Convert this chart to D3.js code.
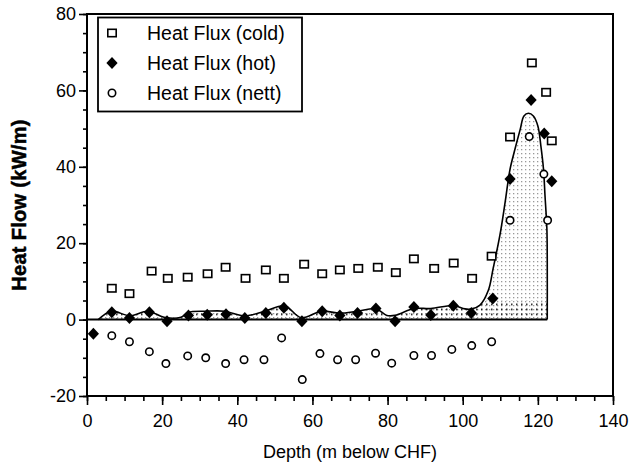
<!DOCTYPE html>
<html>
<head>
<meta charset="utf-8">
<script src="https://cdn.jsdelivr.net/npm/d3@7"></script>
<style>
  html, body { margin: 0; padding: 0; background: #fff; }
  svg { display: block; font-family: "Liberation Sans", Arial, sans-serif; }
</style>
</head>
<body>
<svg id="chart" width="644" height="472"></svg>
<script>
// ---- data ----
const coldDepth = [6.6, 11.3, 17.2, 21.5, 26.8, 32.1, 36.9, 42.2, 47.6, 52.4, 57.8, 62.6, 67.3, 72.2, 77.4, 82.2, 87, 92.4, 97.6, 102.5, 107.7, 112.6, 118.4, 122.2, 123.7];
const coldFlux  = [8.2, 6.8, 12.7, 10.8, 11.1, 12.0, 13.7, 10.8, 13.0, 10.8, 14.5, 12.0, 13.0, 13.4, 13.7, 12.3, 15.9, 13.4, 14.8, 10.8, 16.6, 47.8, 67.2, 59.5, 46.8];

const hotDepth = [1.7, 6.6, 11.3, 16.6, 21.3, 27, 32, 37, 42, 47.6, 52.4, 57.2, 62.6, 67.3, 72, 76.9, 82, 87, 91.5, 97.5, 102.3, 108, 112.6, 118.2, 121.7, 123.7];
const hotFlux  = [-3.7, 1.9, 0.4, 1.9, -0.4, 1.1, 1.3, 1.4, 0.4, 1.7, 3.1, -0.4, 2.2, 1.1, 1.7, 2.9, -0.4, 3.3, 1.2, 3.6, 1.7, 5.5, 36.8, 57.5, 48.7, 36.2];

const nettDepth = [6.6, 11.3, 16.6, 21, 26.8, 31.6, 36.9, 41.8, 47.1, 51.8, 57.3, 62, 66.7, 71.5, 76.8, 81.1, 87, 91.7, 97.1, 102.4, 107.7, 112.6, 117.7, 121.6, 122.6];
const nettFlux  = [-4.2, -5.8, -8.4, -11.5, -9.5, -10.0, -11.5, -10.5, -10.5, -4.8, -15.7, -8.9, -10.5, -10.5, -8.8, -11.4, -9.4, -9.4, -7.8, -6.8, -5.8, 26.0, 47.9, 38.1, 26.0];

// smoothed hot-flux envelope (shaded region)
const fitDepth = [3, 6.5, 11.4, 16.2, 20.5, 25, 26.9, 31.8, 36.6, 42, 47.3, 52.6, 57, 62.4, 67.3, 72, 76.9, 79.8, 82, 87, 91.5, 97.5, 100.6, 102.4, 104.6, 106.8, 108.1, 109.9, 111.3, 112.6, 113.9, 115.3, 116.3, 117.5, 118.8, 120, 120.8, 121.5, 121.9, 122.4, 122.5, 122.5];
const fitFlux  = [0, 2.2, 1.0, 2.2, 0.6, 0.6, 1.9, 2.2, 2.2, 1.0, 2.2, 3.6, 0.5, 2.2, 1.7, 2.2, 2.8, 1.1, 1.1, 2.9, 2.9, 3.7, 2.8, 2.8, 3.8, 7.6, 13.4, 22.1, 30.8, 39.4, 44.6, 49.8, 53.3, 54.0, 53.3, 50.7, 45.5, 39.4, 32.5, 23.8, 15.2, 0];

const xTicks = [0, 20, 40, 60, 80, 100, 120, 140];
const yTicks = [-20, 0, 20, 40, 60, 80];
const legendLabels = ["Heat Flux (cold)", "Heat Flux (hot)", "Heat Flux (nett)"];
const xTitle = "Depth (m below CHF)";
const yTitle = "Heat Flow (kW/m)";

// ---- layout ----
const svg = d3.select("#chart");
const L = 87, R = 613, T = 14, B = 396;
const x = d3.scaleLinear().domain([0, 140]).range([L, R]);
const y = d3.scaleLinear().domain([-20, 80]).range([B, T]);
const fmt = d => String(d);

const defs = svg.append("defs");
const pg = defs.append("pattern").attr("id", "grayDots").attr("patternUnits", "userSpaceOnUse")
  .attr("width", 4).attr("height", 4);
pg.append("rect").attr("x", 1).attr("y", 1).attr("width", 1.3).attr("height", 1.3).attr("fill", "#999");
const pb = defs.append("pattern").attr("id", "blackDots").attr("patternUnits", "userSpaceOnUse")
  .attr("width", 5).attr("height", 5).attr("y", y(0) - 2);
pb.append("rect").attr("x", 1).attr("y", 1).attr("width", 1.5).attr("height", 1.5).attr("fill", "#000");

const fit = fitDepth.map((d, i) => [d, fitFlux[i]]);
const area = d3.area().x(d => x(d[0])).y0(y(0)).y1(d => y(d[1])).curve(d3.curveLinear);
const line = d3.line().x(d => x(d[0])).y(d => y(d[1])).curve(d3.curveCatmullRom.alpha(0.5));

defs.append("clipPath").attr("id", "fitClip").append("path").attr("d", area(fit));

svg.append("path").attr("d", area(fit)).attr("fill", "url(#grayDots)");
// black-dot band near the baseline
svg.append("rect").attr("clip-path", "url(#fitClip)")
  .attr("x", x(0)).attr("width", x(125) - x(0))
  .attr("y", y(5)).attr("height", y(0) - y(5))
  .attr("fill", "url(#blackDots)");

// zero line
svg.append("line").attr("x1", x(0)).attr("x2", x(122.5)).attr("y1", y(0)).attr("y2", y(0))
  .attr("stroke", "#000").attr("stroke-width", 2);

svg.append("path").attr("d", line(fit)).attr("fill", "none").attr("stroke", "#000").attr("stroke-width", 1.6);

// ---- axes ----
const xMinor = d3.range(0, 141, 5);
const yMinor = d3.range(-20, 81, 5);
const gx = svg.append("g").attr("transform", `translate(0,${B})`);
gx.call(d3.axisBottom(x).tickValues(xMinor).tickSize(5).tickFormat(""));
gx.call(g => g.selectAll(".domain").remove());
const gx2 = svg.append("g").attr("transform", `translate(0,${B})`);
gx2.call(d3.axisBottom(x).tickValues(xTicks).tickSize(9).tickPadding(9).tickFormat(fmt));
gx2.select(".domain").remove();
[gx, gx2].forEach(g => g.selectAll("line").attr("stroke-width", 1.6));
gx2.selectAll("text").attr("font-size", 18).attr("fill", "#000").attr("font-family", "Liberation Sans, Arial, sans-serif");

const gy = svg.append("g").attr("transform", `translate(${L},0)`);
gy.call(d3.axisLeft(y).tickValues(yMinor).tickSize(4).tickFormat(""));
gy.select(".domain").remove();
const gy2 = svg.append("g").attr("transform", `translate(${L},0)`);
gy2.call(d3.axisLeft(y).tickValues(yTicks).tickSize(8).tickPadding(3).tickFormat(fmt));
gy2.select(".domain").remove();
[gy, gy2].forEach(g => g.selectAll("line").attr("stroke-width", 1.6));
gy2.selectAll("text").attr("font-size", 18).attr("fill", "#000").attr("font-family", "Liberation Sans, Arial, sans-serif");

// frame
svg.append("rect").attr("x", L).attr("y", T).attr("width", R - L).attr("height", B - T)
  .attr("fill", "none").attr("stroke", "#000").attr("stroke-width", 2);

// titles
svg.append("text").attr("x", (L + R) / 2).attr("y", 458).attr("text-anchor", "middle")
  .attr("font-size", 18).text(xTitle);
svg.append("text").attr("transform", `translate(26,${(T + B) / 2}) rotate(-90)`)
  .attr("text-anchor", "middle").attr("font-size", 20).attr("font-weight", "bold")
  .attr("letter-spacing", 0.3).attr("stroke", "#000").attr("stroke-width", 0.5).text(yTitle);

// ---- markers ----
const sq = (g, px, py) => g.append("rect").attr("x", px - 4.2).attr("y", py - 3.7).attr("width", 8.4).attr("height", 7.4)
  .attr("fill", "#fff").attr("stroke", "#000").attr("stroke-width", 1.6);
const dia = (g, px, py) => g.append("path")
  .attr("d", `M${px},${py - 6}L${px + 5.6},${py}L${px},${py + 6}L${px - 5.6},${py}Z`).attr("fill", "#000");
const circ = (g, px, py) => g.append("circle").attr("cx", px).attr("cy", py).attr("r", 3.7)
  .attr("fill", "#fff").attr("stroke", "#000").attr("stroke-width", 1.6);

const mk = svg.append("g");
nettDepth.forEach((d, i) => circ(mk, x(d), y(nettFlux[i])));
coldDepth.forEach((d, i) => sq(mk, x(d), y(coldFlux[i])));
hotDepth.forEach((d, i) => dia(mk, x(d), y(hotFlux[i])));

// ---- legend ----
const lg = svg.append("g");
lg.append("rect").attr("x", 98).attr("y", 17.5).attr("width", 204).attr("height", 94)
  .attr("fill", "#fff").attr("stroke", "#000").attr("stroke-width", 1.8);
const rows = [33, 63, 93];
sq(lg, 112, rows[0]);
dia(lg, 112, rows[1]);
circ(lg, 112, rows[2]);
legendLabels.forEach((t, i) => lg.append("text").attr("x", 147).attr("y", rows[i]).attr("dy", "0.36em")
  .attr("font-size", 19.5).text(t));
</script>
</body>
</html>
